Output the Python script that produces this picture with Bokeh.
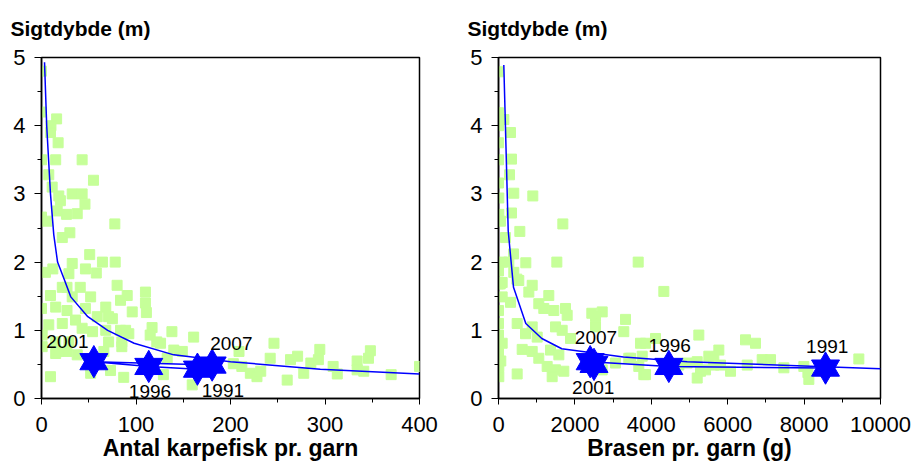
from bokeh.plotting import figure
from bokeh.layouts import row
from bokeh.models import FixedTicker, ColumnDataSource, LabelSet
from bokeh.embed import file_html
from bokeh.resources import INLINE
from bokeh.core.properties import value

# ---------------- data: left panel (Antal karpefisk pr. garn) ----------------
left_x = [0, 0, 16, 10, 9.5, 17.6, 0, 15, 43, 7.7, 55, 11.3, 18.3, 32.5, 43, 20, 46, 16.6, 26.5, 37.8,
          0, 6, 77.6, 30, 22, 51, 32.5, 64.5, 78, 4.2, 12, 46.5, 58, 80, 90.7, 110, 110, 111, 9.5, 22,
          41, 32.5, 52, 0, 15, 27, 46.5, 68, 75, 59, 36, 22, 7.7, 43, 54, 68, 83.6, 92.4, 117, 115,
          0.7, 15, 29, 71, 85, 15, 0.7, 9.5, 52, 73, 87, 37.8, 122, 138, 161, 149, 140, 159.5, 129, 126,
          133, 203, 212, 221, 246, 242, 263.5, 260, 228, 209, 232, 271, 277.5, 285, 293, 294.5, 308.6, 313, 334, 334,
          346, 348, 341, 370, 400, 27, 66, 29, 27, 83.6, 71, 96, 89, 85, 18.3]
left_y = [4.8, 4.2, 4.1, 4.0, 3.9, 3.75, 3.5, 3.5, 3.5, 3.28, 3.2, 3.1, 2.97, 3.0, 3.0, 2.9, 2.85, 2.75, 2.7, 2.71,
          2.66, 2.6, 2.56, 2.43, 2.36, 2.11, 1.98, 2.0, 2.0, 1.85, 1.9, 1.9, 1.84, 1.66, 1.51, 1.56, 1.40, 1.26, 1.51, 1.63,
          1.63, 1.49, 1.49, 1.32, 1.34, 1.29, 1.32, 1.34, 1.17, 1.2, 1.15, 1.1, 1.08, 1.03, 0.98, 1.0, 1.0, 0.95, 1.04, 0.93,
          0.93, 0.83, 0.83, 0.83, 0.83, 0.66, 0.76, 0.32, 0.37, 0.41, 0.31, 0.64, 0.83, 0.98, 0.9, 0.69, 0.71, 0.2, 0.35, 0.81,
          0.59, 0.51, 0.47, 0.37, 0.81, 0.59, 0.57, 0.27, 0.32, 0.69, 0.40, 0.62, 0.37, 0.52, 0.57, 0.72, 0.47, 0.36, 0.55, 0.42,
          0.59, 0.70, 0.40, 0.35, 0.47, 0.69, 0.69, 1.83, 1.63, 1.44, 1.2, 1.27, 1.0, 0.76, 0.69]
left_fit_x = [3.2, 5.5, 7.5, 9.5, 13, 17, 24, 31, 49, 70, 98, 140, 200, 295, 400]
left_fit_y = [4.93, 4.0, 3.5, 3.0, 2.4, 2.0, 1.75, 1.49, 1.2, 1.0, 0.81, 0.64, 0.54, 0.43, 0.36]
left_years = ["1991", "1996", "2001", "2007"]
left_star_x = [165, 113.5, 55.4, 180.6]
left_star_y = [0.43, 0.47, 0.54, 0.49]
left_lab_x = [192, 114.8, 27.5, 200.9]
left_lab_y = [0.115, 0.106, 0.83, 0.81]

# ---------------- data: right panel (Brasen pr. garn (g)) ----------------
right_x = [0, 0, 140, 0, 314, 0, 0, 340, 288, 0, 400, 8, 898, 340, 8, 52, 1684, 558, 183, 393,
           86, 715, 1527, 0, 480, 3657, 400, 4328, 0, 531, 882, 794, 1317, 96, 0, 314, 1055, 1186, 1448, 1754,
           1798, 2715, 2540, 3325, 489, 882, 1492, 1667, 2540, 3280, 0, 707, 1013, 1885, 96, 620, 882, 1361, 1580, 0,
           3717, 4110, 1055, 1274, 1492, 1710, 1405, 489, 8, 8, 2715, 3063, 3411, 3804, 3673, 3762, 2443, 5244, 3849, 6466,
           6728, 5768, 5506, 3456, 5202, 5637, 6074, 6511, 4720, 5288, 5202, 3849, 5637, 6903, 7121, 4940, 5420, 5812, 7470, 7993,
           8124, 9433, 8100, 0, 60, 96, 270, 45]
right_y = [4.79, 4.19, 4.09, 4.0, 3.9, 3.75, 3.5, 3.51, 3.28, 3.16, 3.01, 2.94, 2.97, 2.72, 2.7, 2.6, 2.56, 2.45, 2.36, 2.12,
           2.0, 1.99, 2.0, 1.87, 1.75, 2.0, 1.85, 1.57, 1.68, 1.73, 1.66, 1.56, 1.51, 1.49, 1.29, 1.41, 1.39, 1.32, 1.29, 1.32,
           1.22, 1.27, 1.2, 1.16, 1.1, 1.05, 1.05, 1.0, 1.05, 0.98, 0.93, 0.95, 0.9, 0.88, 0.81, 0.72, 0.69, 0.71, 0.64, 0.66,
           0.81, 0.88, 0.59, 0.47, 0.42, 0.4, 0.32, 0.36, 0.32, 0.47, 0.42, 0.52, 0.59, 0.35, 0.47, 0.62, 1.25, 0.93, 0.81, 0.86,
           0.81, 0.71, 0.62, 0.59, 0.54, 0.49, 0.4, 0.49, 0.49, 0.4, 0.3, 0.35, 0.57, 0.57, 0.57, 0.52, 0.42, 0.49, 0.45, 0.47,
           0.28, 0.58, 0.38, 1.1, 0.55, 1.7, 2.0, 1.68]
right_fit_x = [139, 254, 393, 715, 1134, 1657, 3272, 4940, 10000]
right_fit_y = [4.89, 2.46, 1.63, 1.10, 0.88, 0.73, 0.61, 0.54, 0.436]
right_years = ["1991", "1996", "2001", "2007"]
right_star_x = [8561, 4459, 2400, 2500]
right_star_y = [0.446, 0.47, 0.54, 0.50]
right_lab_x = [8605, 4482, 2479, 2552]
right_lab_y = [0.756, 0.78, 0.155, 0.90]

y_major = [0, 1, 2, 3, 4, 5]
y_minor = [0.5, 1.5, 2.5, 3.5, 4.5]

FONT = "Liberation Sans"
GREEN = "#C6FF99"
BLUE = "#0000FF"


def make_panel(width, border_right, xmax, x_major, x_minor, xlabel,
               sx, sy, fx, fy, stx, sty, years, lx, ly):
    p = figure(width=width, height=463, x_range=(0, xmax), y_range=(0, 5),
               output_backend="svg", toolbar_location=None,
               min_border_left=41, min_border_right=border_right,
               min_border_top=55, min_border_bottom=64,
               title="Sigtdybde (m)")
    p.title.align = "left"
    p.title.vertical_align = "top"
    p.title.offset = -42
    p.title.text_font = FONT
    p.title.text_font_size = "21px"
    p.title.text_font_style = "bold"
    p.title.text_color = "black"
    p.title.standoff = 10
    p.title.padding = 11

    p.xgrid.visible = False
    p.ygrid.visible = False
    p.outline_line_color = "black"
    p.outline_line_width = 1.5
    p.background_fill_color = "white"
    p.border_fill_color = "white"

    p.xaxis.ticker = FixedTicker(ticks=x_major, minor_ticks=x_minor)
    p.yaxis.ticker = FixedTicker(ticks=y_major, minor_ticks=y_minor)
    for ax in (p.xaxis, p.yaxis):
        ax.axis_line_color = "black"
        ax.axis_line_width = 1.5
        ax.major_tick_line_color = "black"
        ax.minor_tick_line_color = "black"
        ax.major_tick_out = 6
        ax.major_tick_in = 0
        ax.minor_tick_out = 4
        ax.minor_tick_in = 0
        ax.major_label_text_font = FONT
        ax.major_label_text_font_size = "22px"
        ax.major_label_text_color = "black"
    p.yaxis.major_tick_out = 7
    p.yaxis.major_label_standoff = 9
    p.xaxis.major_label_standoff = 12
    p.xaxis.axis_label = xlabel
    p.xaxis.axis_label_text_font = FONT
    p.xaxis.axis_label_text_font_size = "23px"
    p.xaxis.axis_label_text_font_style = "bold"
    p.xaxis.axis_label_text_color = "black"
    p.xaxis.axis_label_standoff = 0

    p.scatter(sx, sy, marker="square", size=10, fill_color=GREEN, line_color=GREEN)
    p.line(fx, fy, line_color=BLUE, line_width=1.5)
    p.line(stx, sty, line_color=BLUE, line_width=1.5)
    p.scatter(stx, sty, marker="triangle", size=28, fill_color=BLUE, line_color=BLUE)
    p.scatter(stx, sty, marker="inverted_triangle", size=28, fill_color=BLUE, line_color=BLUE)

    src = ColumnDataSource(dict(x=lx, y=ly, t=years))
    p.add_layout(LabelSet(x="x", y="y", text="t", source=src, text_align="center",
                          text_baseline="middle", text_font=value(FONT),
                          text_font_size="19px", text_color="black"))
    return p


left = make_panel(457, 38, 400, [0, 100, 200, 300, 400], [50, 150, 250, 350],
                  "Antal karpefisk pr. garn", left_x, left_y, left_fit_x, left_fit_y,
                  left_star_x, left_star_y, left_years, left_lab_x, left_lab_y)
right = make_panel(458, 35, 10000, [0, 2000, 4000, 6000, 8000, 10000],
                   [1000, 3000, 5000, 7000, 9000],
                   "Brasen pr. garn (g)", right_x, right_y, right_fit_x, right_fit_y,
                   right_star_x, right_star_y, right_years, right_lab_x, right_lab_y)

layout = row(left, right, spacing=0)
open("out.html", "w").write(file_html(layout, INLINE))
